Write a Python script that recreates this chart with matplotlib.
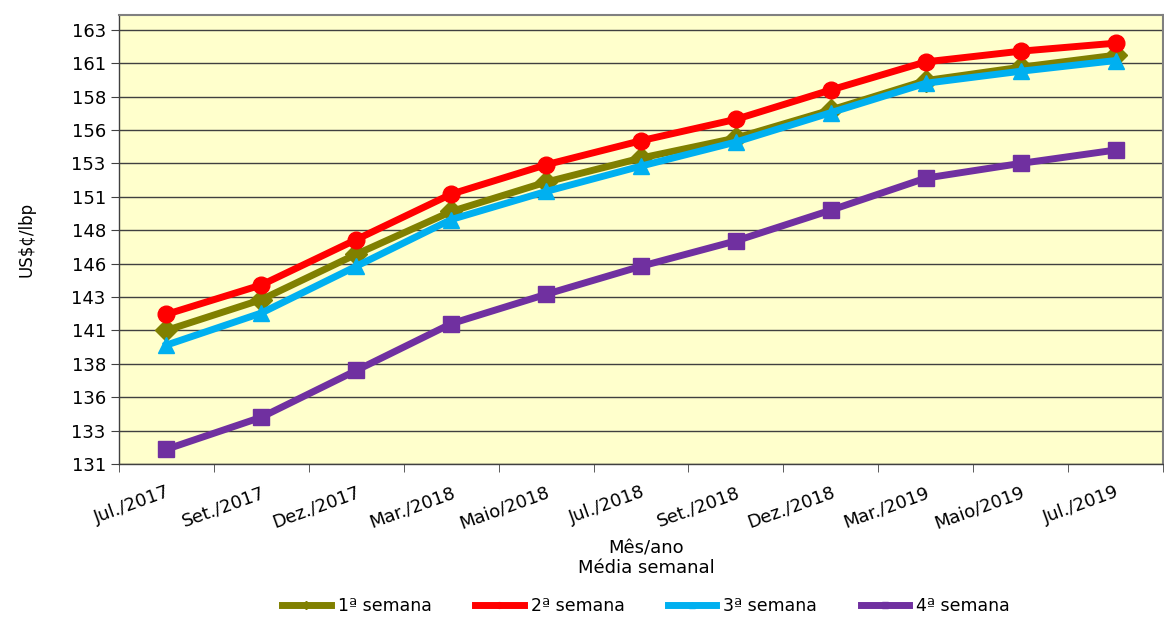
import numpy as np
import matplotlib.pyplot as plt
from matplotlib.ticker import FixedLocator, FuncFormatter

meses = ["Jul./2017", "Set./2017", "Dez./2017", "Mar./2018", "Maio/2018", "Jul./2018",
         "Set./2018", "Dez./2018", "Mar./2019", "Maio/2019", "Jul./2019"]

semana1 = [140.8, 143.1, 146.5, 149.7, 151.9, 153.7, 155.2, 157.3, 159.5, 160.5, 161.4]
semana2 = [142.0, 144.2, 147.6, 151.0, 153.2, 155.0, 156.6, 158.8, 160.9, 161.7, 162.3]
semana3 = [139.7, 142.1, 145.6, 149.1, 151.2, 153.1, 154.9, 157.1, 159.3, 160.2, 161.0]
semana4 = [131.9, 134.3, 137.8, 141.3, 143.5, 145.6, 147.5, 149.8, 152.2, 153.3, 154.3]

series = [
    ("1ª semana", semana1, "#808000", "D", 11),
    ("2ª semana", semana2, "#FF0000", "o", 12),
    ("3ª semana", semana3, "#00B0F0", "^", 11),
    ("4ª semana", semana4, "#7030A0", "s", 11),
]

plt.rcParams['font.family'] = ['DejaVu Sans']

fig = plt.figure(figsize=(11.64, 6.17), dpi=100)
ax = fig.add_axes([0.1022, 0.248, 0.897, 0.7275])
ax.set_facecolor('#FFFFCC')

x = np.arange(len(meses))
for nome, valores, cor, marcador, tam in series:
    ax.plot(x, valores, color=cor, linewidth=5, marker=marcador, markersize=tam,
            label=nome, zorder=3)

ax.set_xlim(-0.5, len(meses) - 0.5)
ax.set_ylim(130.8, 164.4)

yticks = 130.8 + 2.5 * np.arange(14)
ax.yaxis.set_major_locator(FixedLocator(yticks))
ax.yaxis.set_major_formatter(FuncFormatter(lambda v, p: f"{v:.0f}"))
ax.grid(axis='y', color='#404040', linewidth=1, zorder=1)

ax.set_xticks(x)
ax.set_xticklabels(meses, rotation=20, ha='right', rotation_mode='anchor', fontsize=13)
ax.set_xticks(np.arange(len(meses) + 1) - 0.5, minor=True)
ax.tick_params(axis='x', which='major', length=0, pad=14)
ax.tick_params(axis='x', which='minor', length=6, color='#404040')
ax.tick_params(axis='y', labelsize=13, length=6, color='#404040')

for lado in ['top', 'right']:
    ax.spines[lado].set_color('#808080')
    ax.spines[lado].set_linewidth(1.5)
for lado in ['left', 'bottom']:
    ax.spines[lado].set_color('#404040')
    ax.spines[lado].set_linewidth(1)

ax.set_ylabel("US$¢/lbp", fontsize=12, labelpad=26)
fig.text(0.555, 0.095, "Mês/ano\nMédia semanal", ha='center', va='center',
         fontsize=13, linespacing=1.1)

fig.legend(loc='center', bbox_to_anchor=(0.555, 0.018), ncol=4, frameon=False,
           fontsize=12.5, handlelength=2.8, markerscale=0.35, columnspacing=2.5,
           handletextpad=0.4)

fig.savefig("out.png", dpi=100)
